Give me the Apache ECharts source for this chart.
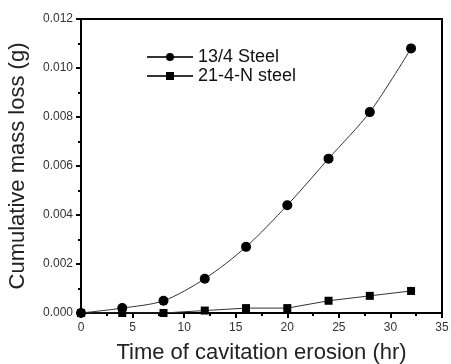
<!DOCTYPE html>
<html>
<head>
<meta charset="utf-8">
<script src="https://cdn.jsdelivr.net/npm/echarts@6/dist/echarts.min.js"></script>
<style>html,body{margin:0;padding:0;background:#fff;}#c{width:451px;height:364px;}</style>
</head>
<body>
<div id="c"></div>
<script>
var times = [0, 4, 8, 12, 16, 20, 24, 28, 32];
var steel134 = [0, 0.0002, 0.0005, 0.0014, 0.0027, 0.0044, 0.0063, 0.0082, 0.0108];
var steel214N = [0, 0, 0, 0.0001, 0.0002, 0.0002, 0.0005, 0.0007, 0.0009];
var seriesNames = ['13/4 Steel', '21-4-N steel'];

function pairs(xs, ys) { return xs.map(function (x, i) { return [x, ys[i]]; }); }

var chart = echarts.init(document.getElementById('c'), null, {renderer: 'canvas'});
var font = 'Liberation Sans, Arial, sans-serif';
chart.setOption({
  animation: false,
  backgroundColor: '#fff',
  grid: {left: 81, right: 9, top: 19, bottom: 51, show: true, borderColor: '#000', borderWidth: 2,
    containLabel: false, outerBoundsMode: 'none'},
  legend: {
    left: 141, top: 43, orient: 'vertical', itemGap: 1, itemWidth: 46, itemHeight: 10,
    textStyle: {fontFamily: font, fontSize: 18, color: '#111', lineHeight: 16},
    data: seriesNames
  },
  xAxis: {
    type: 'value', min: 0, max: 35, interval: 5,
    name: 'Time of cavitation erosion (hr)', nameLocation: 'middle', nameGap: 29,
    nameTextStyle: {fontFamily: font, fontSize: 22, color: '#222'},
    axisLine: {show: true, lineStyle: {color: '#000', width: 2}},
    axisTick: {show: true, length: 5, lineStyle: {color: '#000', width: 2}},
    minorTick: {show: true, splitNumber: 2, length: 3, lineStyle: {color: '#000', width: 2}},
    splitLine: {show: false},
    axisLabel: {fontFamily: font, fontSize: 12, color: '#333', margin: 9}
  },
  yAxis: {
    type: 'value', min: 0, max: 0.012, interval: 0.002,
    name: 'Cumulative mass loss (g)', nameLocation: 'middle', nameGap: 52,
    nameTextStyle: {fontFamily: font, fontSize: 22, color: '#222'},
    axisLine: {show: true, lineStyle: {color: '#000', width: 2}},
    axisTick: {show: true, length: 5, lineStyle: {color: '#000', width: 2}},
    minorTick: {show: true, splitNumber: 2, length: 3, lineStyle: {color: '#000', width: 2}},
    splitLine: {show: false},
    axisLabel: {fontFamily: font, fontSize: 12, color: '#333', margin: 8,
      formatter: function (v) { return v.toFixed(3); }}
  },
  series: [
    {
      name: seriesNames[0], type: 'line', data: pairs(times, steel134), smooth: 0.3,
      symbol: 'circle', symbolSize: 10, color: '#000',
      lineStyle: {color: '#333', width: 1}, itemStyle: {color: '#000'}
    },
    {
      name: seriesNames[1], type: 'line', data: pairs(times, steel214N),
      symbol: 'rect', symbolSize: 8, color: '#000',
      lineStyle: {color: '#333', width: 1}, itemStyle: {color: '#000'}
    }
  ]
});
</script>
</body>
</html>
